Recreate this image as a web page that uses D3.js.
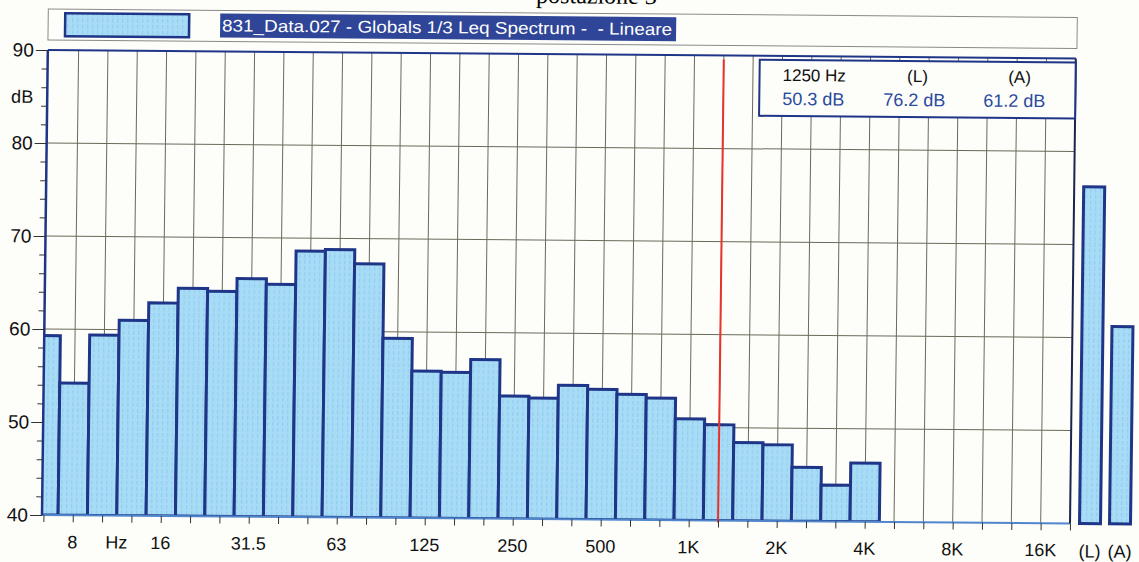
<!DOCTYPE html>
<html>
<head>
<meta charset="utf-8">
<script src="https://cdn.jsdelivr.net/npm/d3@7"></script>
<style>
  body { margin: 0; background: #fdfdf9; }
  svg { display: block; font-family: "Liberation Sans", Arial, sans-serif; }
</style>
</head>
<body>
<div class="canvas"></div>
<script>
// 1/3 octave band centres on the axis (6.3 Hz .. 20 kHz)
var axisBands = ["6.3","8","10","12.5","16","20","25","31.5","40","50","63","80","100","125","160","200",
  "250","315","400","500","630","800","1K","1.25K","1.6K","2K","2.5K","3.15K","4K","5K","6.3K","8K","10K","12.5K","16K","20K"]

// measured Leq per band (dB), 6.3 Hz .. 4 kHz
var levels = [59.3, 54.2, 59.4, 61.0, 62.9, 64.5, 64.2, 65.6, 65.0, 68.6, 68.8, 67.3, 59.3, 55.8, 55.7, 57.1,
  53.2, 53.0, 54.4, 54.0, 53.5, 53.1, 50.9, 50.3, 48.4, 48.2, 45.8, 43.9, 46.3]

// overall levels
var totals = ["(L)", "(A)"]
var totalLevels = [76.2, 61.2]

// x tick labels (band index -> text)
var xLabels = [[1, "8"], [2.5, "Hz"], [4, "16"], [7, "31.5"], [10, "63"], [13, "125"], [16, "250"], [19, "500"],
  [22, "1K"], [25, "2K"], [28, "4K"], [31, "8K"], [34, "16K"]]

var yMajor = [40, 50, 60, 70, 80, 90]
var cursorBand = "1.25K"
var cursorText = ["1250 Hz", "(L)", "(A)"]
var cursorValues = ["50.3 dB", "76.2 dB", "61.2 dB"]
var legendText = "831_Data.027 - Globals 1/3 Leq Spectrum -  - Lineare"
var captionText = "postazione 3"

function draw() {
  var width = 1139, height = 562
  var pL = 42, pR = 1070, pT = 50, pB = 515

  var navy = "#1f3588", grid = "#6a6a5c"

  var svg = d3.select(".canvas").append("svg")
    .attr("width", width)
    .attr("height", height)

  var defs = svg.append("defs")
  var pat = defs.append("pattern")
    .attr("id", "fillpat")
    .attr("patternUnits", "userSpaceOnUse")
    .attr("width", 5).attr("height", 6)
  pat.append("rect").attr("width", 5).attr("height", 6).attr("fill", "#a8dcf6")
  pat.append("line").attr("x1", 1.5).attr("x2", 1.5).attr("y1", 0).attr("y2", 4)
    .attr("stroke", "#8ecbef").attr("stroke-width", 1)

  defs.append("clipPath").attr("id", "plotclip")
    .append("rect").attr("x", pL).attr("y", pT).attr("width", pR - pL).attr("height", pB - pT)

  // the scanned page is slightly skewed, reproduce it
  var k = 0.0125, t = 0.0082
  var root = svg.append("g")
    .attr("transform", "matrix(1," + t + "," + (-k) + ",1," + (k * pB) + "," + (-t * pL) + ")")

  var x = d3.scaleLinear().domain([-0.05, 35]).range([pL, pR])
  var y = d3.scaleLinear().domain([40, 90]).range([pB, pT])
  var xt = d3.scaleBand().domain(totals).range([1075, 1135]).paddingInner(0.3).paddingOuter(0.15)

  // caption cut at the top of the scan
  root.append("text")
    .attr("x", 590).attr("y", -1)
    .attr("text-anchor", "middle")
    .style("font-family", "'Liberation Serif', 'Times New Roman', serif")
    .style("font-size", "24px")
    .text(captionText)

  // legend strip
  var lg = root.append("g")
  lg.append("rect").attr("x", 42).attr("y", 9).attr("width", 1029).attr("height", 31)
    .attr("fill", "#fdfdf9").attr("stroke", "#8a8a8a").attr("stroke-width", 1)
  lg.append("rect").attr("x", 59).attr("y", 13).attr("width", 124).attr("height", 23)
    .attr("fill", "url(#fillpat)").attr("stroke", navy).attr("stroke-width", 2.5)
  lg.append("rect").attr("x", 214).attr("y", 12).attr("width", 456).attr("height", 24)
    .attr("fill", "#2f4597")
  lg.append("text").attr("x", 216).attr("y", 30)
    .attr("fill", "#ffffff")
    .attr("xml:space", "preserve")
    .style("white-space", "pre")
    .attr("textLength", 450).attr("lengthAdjust", "spacingAndGlyphs")
    .style("font-size", "17px")
    .text(legendText)

  // plot background + grid
  root.append("rect").attr("x", pL).attr("y", pT).attr("width", pR - pL).attr("height", pB - pT)
    .attr("fill", "#fdfdf9")

  root.append("g").selectAll("line")
    .data(d3.range(1, 35))
    .join("line")
    .attr("x1", d => x(d)).attr("x2", d => x(d))
    .attr("y1", pT).attr("y2", pB)
    .attr("stroke", grid).attr("stroke-width", 1)

  root.append("g").selectAll("line")
    .data([50, 60, 70, 80])
    .join("line")
    .attr("x1", pL).attr("x2", pR)
    .attr("y1", d => y(d)).attr("y2", d => y(d))
    .attr("stroke", grid).attr("stroke-width", 1)

  // spectrum bars
  root.append("g")
    .attr("clip-path", "url(#plotclip)")
    .selectAll("rect")
    .data(levels)
    .join("rect")
    .attr("x", (d, i) => x(i - 0.5))
    .attr("width", (d, i) => x(i + 0.5) - x(i - 0.5))
    .attr("y", d => y(d))
    .attr("height", d => y(40) - y(d))
    .attr("fill", "url(#fillpat)")
    .attr("stroke", navy)
    .attr("stroke-width", 3)

  // total bars
  root.append("g").selectAll("rect")
    .data(totalLevels)
    .join("rect")
    .attr("x", (d, i) => xt(totals[i]))
    .attr("width", xt.bandwidth())
    .attr("y", d => y(d))
    .attr("height", d => y(40) - y(d))
    .attr("fill", "url(#fillpat)")
    .attr("stroke", navy)
    .attr("stroke-width", 3)

  // frame
  root.append("line").attr("x1", pL).attr("x2", pR).attr("y1", pB).attr("y2", pB)
    .attr("stroke", "#4f86cc").attr("stroke-width", 2)
  root.append("line").attr("x1", pL).attr("x2", pR).attr("y1", pT).attr("y2", pT)
    .attr("stroke", navy).attr("stroke-width", 2)
  root.append("line").attr("x1", pL).attr("x2", pL).attr("y1", pT).attr("y2", pB)
    .attr("stroke", navy).attr("stroke-width", 2.5)
  root.append("line").attr("x1", pR).attr("x2", pR).attr("y1", pT).attr("y2", pB)
    .attr("stroke", "#1c2450").attr("stroke-width", 2)

  // cursor
  var ci = axisBands.indexOf(cursorBand)
  root.append("line").attr("x1", x(ci)).attr("x2", x(ci)).attr("y1", pT + 4).attr("y2", pB + 2)
    .attr("stroke", "#e8332b").attr("stroke-width", 2)

  // cursor read-out box
  var box = root.append("g")
  box.append("rect").attr("x", 754).attr("y", 54).attr("width", 316).attr("height", 56)
    .attr("fill", "#fdfdf9").attr("stroke", navy).attr("stroke-width", 2)
  var colX = [777, 878, 978]
  var colMid = [806, 912, 1014]
  box.selectAll(".hd").data(cursorText).join("text")
    .attr("x", (d, i) => i == 0 ? colX[i] : colMid[i])
    .attr("text-anchor", (d, i) => i == 0 ? "start" : "middle")
    .attr("y", 75)
    .attr("fill", "#111")
    .style("font-size", "17px")
    .text(d => d)
  box.selectAll(".vl").data(cursorValues).join("text")
    .attr("x", (d, i) => colX[i])
    .attr("y", 99)
    .attr("fill", "#2a4aa0")
    .style("font-size", "18px")
    .text(d => d)

  // y axis: minor and major ticks
  root.append("g").attr("transform", "translate(" + pL + ",0)")
    .call(d3.axisLeft(y).tickValues(d3.range(40, 91, 2)).tickSize(6).tickFormat(""))
  var yAxis = root.append("g").attr("transform", "translate(" + pL + ",0)")
    .call(d3.axisLeft(y).tickValues(yMajor).tickSize(12).tickPadding(2))
  yAxis.selectAll("text").style("font-size", "19px").attr("fill", "#111")
  root.selectAll(".domain").remove()
  root.selectAll(".tick line").attr("stroke", "#333")

  root.append("text").attr("x", 28).attr("y", 103).attr("text-anchor", "end")
    .style("font-size", "18px").attr("fill", "#111").text("dB")

  // x axis ticks at every band centre
  var xAxis = root.append("g").attr("transform", "translate(0," + pB + ")")
    .call(d3.axisBottom(x).tickValues(d3.range(0, 36)).tickSize(7).tickFormat(""))
  xAxis.select(".domain").remove()
  xAxis.selectAll(".tick line").attr("stroke", "#333")

  root.append("g").selectAll("text")
    .data(xLabels)
    .join("text")
    .attr("x", d => x(d[0]))
    .attr("y", 548)
    .attr("text-anchor", "middle")
    .attr("fill", "#111")
    .style("font-size", "18px")
    .text(d => d[1])

  root.append("g").selectAll("text")
    .data(totals)
    .join("text")
    .attr("x", d => xt(d) + xt.bandwidth() / 2)
    .attr("y", 549)
    .attr("text-anchor", "middle")
    .attr("fill", "#111")
    .style("font-size", "18px")
    .text(d => d)
}

draw()
</script>
</body>
</html>
